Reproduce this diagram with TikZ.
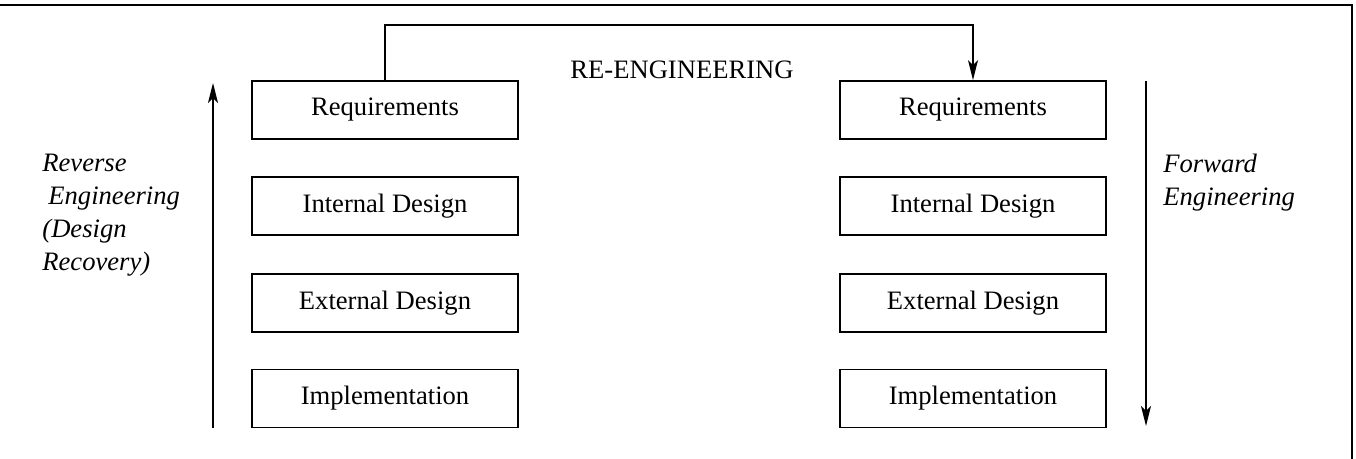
\documentclass[tikz,border=0pt]{standalone}
\usepackage{fontspec}
\setmainfont{Liberation Serif}
\usepackage{tikz}
\usetikzlibrary{arrows.meta}

\tikzset{
  stage/.style={draw, line width=0.9pt, minimum width=133pt, minimum height=29pt,
    inner sep=0pt, font=\fontsize{13.3}{16}\selectfont},
  side/.style={font=\fontsize{13.3}{16.4}\selectfont\itshape, align=left,
    inner sep=0pt, anchor=west},
  flow/.style={->, line width=0.8pt}
}

\begin{document}
\begin{tikzpicture}[x=0.5pt, y=-0.5pt, >={Stealth[length=10pt, width=5pt, inset=2.5pt]}]
  \useasboundingbox (0,0) rectangle (1356,459);
  % frame
  \draw[line width=0.9pt] (0,5) -| (1352,459);
  % old system
  \node[stage] (lreq) at (385,110)   {Requirements};
  \node[stage] (lint) at (385,206)   {Internal Design};
  \node[stage] (lext) at (385,303)   {External Design};
  \node[stage] (limp) at (385,398.5) {Implementation};
  % new system
  \node[stage] (rreq) at (973,110)   {Requirements};
  \node[stage] (rint) at (973,206)   {Internal Design};
  \node[stage] (rext) at (973,303)   {External Design};
  \node[stage] (rimp) at (973,398.5) {Implementation};
  % re-engineering link
  \coordinate (loop) at (680,25);
  \draw[flow] (lreq.north) |- (loop) -| (rreq.north);
  \node[font=\fontsize{13.3}{16}\selectfont] (reeng) at (682,70) {RE-ENGINEERING};
  % side arrows
  \coordinate (revbot) at (213,428);
  \coordinate (revtop) at (213,83);
  \draw[flow] (revbot) -- (revtop);
  \coordinate (fwdtop) at (1146,81);
  \coordinate (fwdbot) at (1146,426);
  \draw[flow] (fwdtop) -- (fwdbot);
  \node[side] (revlbl) at (42,215)
    {Reverse\\\hspace{3pt}Engineering\\(Design\\Recovery)};
  \node[side] (fwdlbl) at (1163,183) {Forward\\Engineering};
\end{tikzpicture}
\end{document}
